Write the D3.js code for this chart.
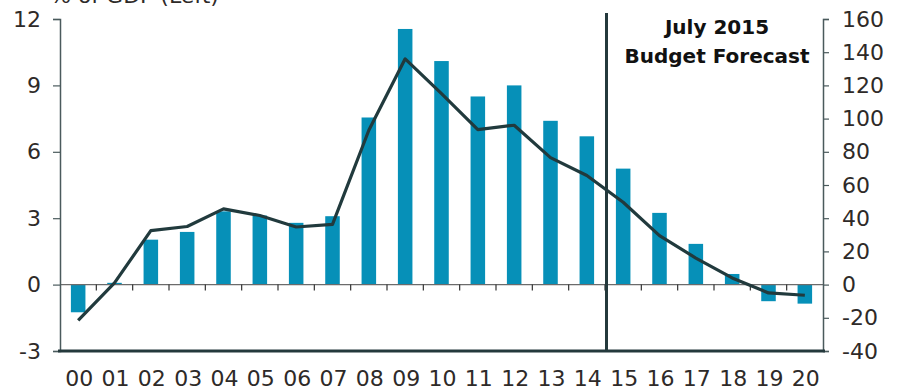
<!DOCTYPE html>
<html>
<head>
<meta charset="utf-8">
<script src="https://cdn.jsdelivr.net/npm/d3@7"></script>
<style>
  body { margin: 0; background: #fff; }
  svg { display: block; font-family: "DejaVu Sans", sans-serif; }
</style>
</head>
<body>
<svg id="chart" width="905" height="391"></svg>
<script>
// years 2000-2020
var years = ["00","01","02","03","04","05","06","07","08","09","10",
             "11","12","13","14","15","16","17","18","19","20"];
// bars, % of GDP (left axis)
var pctGdp = [-1.25, 0.08, 2.03, 2.38, 3.31, 3.12, 2.79, 3.09, 7.55, 11.55, 10.1,
              8.5, 9.0, 7.4, 6.7, 5.24, 3.24, 1.84, 0.48, -0.75, -0.86];
// line, right axis
var rightVals = [-21.5, 1, 32.5, 35, 45.6, 41.6, 34.7, 36.3, 93, 136, 115,
                 93.4, 96, 76.5, 65.7, 49.6, 29.5, 16, 4, -5, -6.4];
var leftTicks = [-3, 0, 3, 6, 9, 12];
var rightTicks = [-40, -20, 0, 20, 40, 60, 80, 100, 120, 140, 160];
var forecastFrom = "15";

var svg = d3.select("#chart");
var mLeft = 60, mRight = 823, mTop = 19, mBottom = 351;

var x = d3.scaleBand().domain(years).range([mLeft, mRight]).paddingInner(0.6).paddingOuter(0.3);
var xb = d3.scaleBand().domain(years).range([mLeft, mRight]);
var yL = d3.scaleLinear().domain([-3, 12]).range([mBottom, mTop]);
var yR = d3.scaleLinear().domain([-40, 160]).range([mBottom, mTop]);

var axisCol = "#4a5a5c";
var textCol = "#2e2a28";
// plain hyphen for negatives, like the original
var fmt = function (d) { return String(d); };

// bars
svg.append("g").selectAll("rect")
  .data(years)
  .enter()
  .append("rect")
  .attr("x", function (d) { return x(d); })
  .attr("width", x.bandwidth())
  .attr("y", function (d, i) { return yL(Math.max(0, pctGdp[i])); })
  .attr("height", function (d, i) { return Math.abs(yL(pctGdp[i]) - yL(0)); })
  .attr("fill", "#0690b8");

// zero line with ticks at band edges
svg.append("line")
  .attr("x1", mLeft).attr("x2", mRight)
  .attr("y1", yL(0)).attr("y2", yL(0))
  .attr("stroke", "#6b6b6b").attr("stroke-width", 1.2);
svg.append("g").selectAll("line")
  .data(years.slice(1))
  .enter()
  .append("line")
  .attr("x1", function (d) { return xb(d); })
  .attr("x2", function (d) { return xb(d); })
  .attr("y1", yL(0)).attr("y2", yL(0) + 6)
  .attr("stroke", "#333").attr("stroke-width", 1.2);

// left axis
var gL = svg.append("g")
  .attr("transform", "translate(" + mLeft + ",0)")
  .call(d3.axisLeft(yL).tickValues(leftTicks).tickFormat(fmt).tickSize(7).tickPadding(12));
gL.select(".domain").attr("stroke", axisCol).attr("stroke-width", 1.5);
gL.selectAll(".tick line").attr("stroke", axisCol).attr("stroke-width", 1.2);
gL.selectAll("text").attr("fill", textCol).style("font-size", "22px")
  .style("font-family", "DejaVu Sans, sans-serif");

// right axis
var gR = svg.append("g")
  .attr("transform", "translate(" + mRight + ",0)")
  .call(d3.axisRight(yR).tickValues(rightTicks).tickFormat(fmt).tickSize(6).tickPadding(13));
gR.select(".domain").attr("stroke", axisCol).attr("stroke-width", 1.5);
gR.selectAll(".tick line").attr("stroke", axisCol).attr("stroke-width", 1.2);
gR.selectAll("text").attr("fill", textCol).style("font-size", "22px")
  .style("font-family", "DejaVu Sans, sans-serif");

// bottom line
svg.append("line")
  .attr("x1", mLeft - 2).attr("x2", mRight + 2)
  .attr("y1", mBottom).attr("y2", mBottom)
  .attr("stroke", "#24393c").attr("stroke-width", 3);

// x labels
svg.append("g").selectAll("text")
  .data(years)
  .enter()
  .append("text")
  .attr("x", function (d) { return xb(d) + xb.bandwidth() / 2 + 1; })
  .attr("y", 386)
  .attr("text-anchor", "middle")
  .attr("fill", textCol)
  .style("font-size", "22px")
  .text(function (d) { return d; });

// forecast divider
var fx = xb(forecastFrom) + 1.5;
svg.append("line")
  .attr("x1", fx).attr("x2", fx)
  .attr("y1", 13).attr("y2", mBottom)
  .attr("stroke", "#24393c").attr("stroke-width", 3);

// line series
var line = d3.line()
  .x(function (d, i) { return xb(years[i]) + xb.bandwidth() / 2; })
  .y(function (d) { return yR(d); });
svg.append("path")
  .datum(rightVals)
  .attr("d", line)
  .attr("fill", "none")
  .attr("stroke", "#213a3d")
  .attr("stroke-width", 3.2)
  .attr("stroke-linejoin", "round");

// annotations
svg.append("text")
  .attr("x", 50).attr("y", 3)
  .attr("fill", textCol)
  .style("font-size", "22px")
  .text("% of GDP (Left)");

var note = svg.append("text")
  .attr("text-anchor", "middle")
  .attr("fill", "#111")
  .style("font-size", "20px")
  .style("font-weight", "bold");
note.append("tspan").attr("x", 717).attr("y", 34).text("July 2015");
note.append("tspan").attr("x", 717).attr("y", 63).text("Budget Forecast");
</script>
</body>
</html>
